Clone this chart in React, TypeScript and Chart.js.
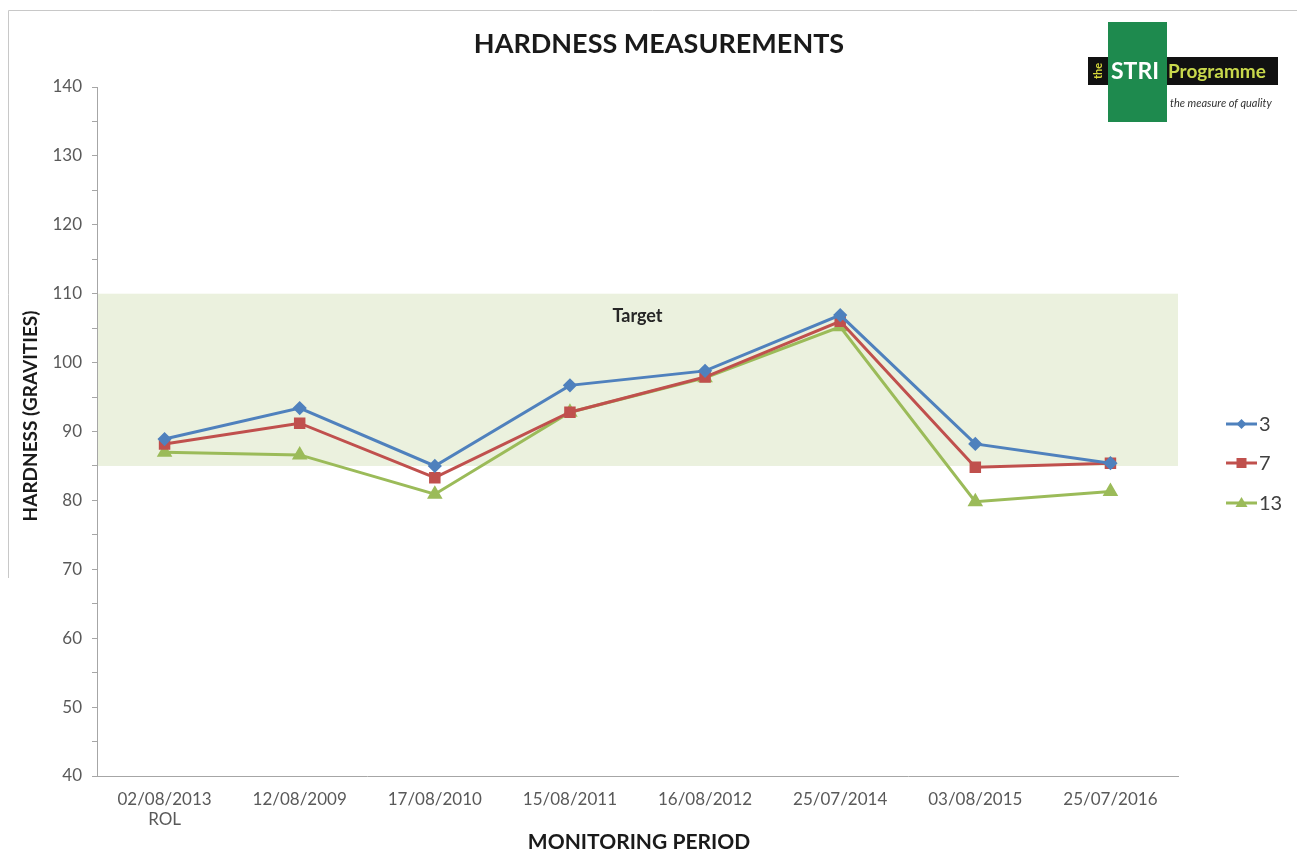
import React, { useEffect, useRef } from "react";
import { Chart, registerables } from "chart.js";

Chart.register(...registerables);

const categories: (string | string[])[] = [
  ["02/08/2013", "ROL"],
  "12/08/2009",
  "17/08/2010",
  "15/08/2011",
  "16/08/2012",
  "25/07/2014",
  "03/08/2015",
  "25/07/2016",
];
const seriesLabels = ["3", "7", "13"];
const series3 = [88.9, 93.4, 85.0, 96.7, 98.8, 106.9, 88.2, 85.4];
const series7 = [88.2, 91.2, 83.3, 92.8, 97.9, 106.0, 84.8, 85.4];
const series13 = [87.0, 86.6, 80.9, 92.8, 97.8, 105.2, 79.8, 81.3];
const targetMin = 85;
const targetMax = 110;
const yMin = 40;
const yMax = 140;

const FONT = "Lato, 'Open Sans', sans-serif";

const decorPlugin = {
  id: "decor",
  beforeDatasetsDraw(chart: any) {
    const { ctx, chartArea, scales } = chart;
    const y = scales.y;
    const top = y.getPixelForValue(targetMax);
    const bot = y.getPixelForValue(targetMin);
    ctx.save();
    ctx.fillStyle = "#EBF1DE";
    ctx.fillRect(chartArea.left + 1, top, chartArea.right - chartArea.left - 1, bot - top);
    ctx.restore();
  },
  afterDraw(chart: any) {
    const { ctx, chartArea, scales } = chart;
    const x = scales.x;
    const y = scales.y;
    ctx.save();
    // frame lines
    ctx.strokeStyle = "#C8C8C8";
    ctx.lineWidth = 1;
    ctx.beginPath();
    ctx.moveTo(8.5, 578);
    ctx.lineTo(8.5, 10.5);
    ctx.lineTo(1297, 10.5);
    ctx.stroke();

    // title
    ctx.fillStyle = "#1a1a1a";
    ctx.textAlign = "center";
    ctx.textBaseline = "middle";
    ctx.font = `bold 27px ${FONT}`;
    ctx.fillText("HARDNESS MEASUREMENTS", 659, 44);

    // Target label
    ctx.font = `bold 18px ${FONT}`;
    ctx.fillStyle = "#262626";
    ctx.fillText("Target", x.getPixelForValue(3.5), y.getPixelForValue(106.7));

    // axis titles
    ctx.font = `bold 21px ${FONT}`;
    ctx.fillStyle = "#1a1a1a";
    ctx.fillText("MONITORING PERIOD", 639, 842);
    ctx.save();
    ctx.translate(31, 416);
    ctx.rotate(-Math.PI / 2);
    ctx.font = `bold 19px ${FONT}`;
    ctx.fillText("HARDNESS (GRAVITIES)", 0, 0);
    ctx.restore();

    // legend
    const legendY = [424, 463, 503];
    chart.data.datasets.forEach((ds: any, i: number) => {
      const cy = legendY[i];
      ctx.strokeStyle = ds.borderColor;
      ctx.lineWidth = 3;
      ctx.beginPath();
      ctx.moveTo(1226, cy);
      ctx.lineTo(1257, cy);
      ctx.stroke();
      ctx.fillStyle = ds.backgroundColor;
      const cx = 1241.5;
      ctx.beginPath();
      if (ds.pointStyle === "rectRot") {
        ctx.moveTo(cx, cy - 5);
        ctx.lineTo(cx + 5, cy);
        ctx.lineTo(cx, cy + 5);
        ctx.lineTo(cx - 5, cy);
        ctx.closePath();
      } else if (ds.pointStyle === "rect") {
        ctx.rect(cx - 5, cy - 5, 10, 10);
      } else {
        ctx.moveTo(cx, cy - 6);
        ctx.lineTo(cx + 6, cy + 4);
        ctx.lineTo(cx - 6, cy + 4);
        ctx.closePath();
      }
      ctx.fill();
      ctx.fillStyle = "#404040";
      ctx.textAlign = "left";
      ctx.font = `20px ${FONT}`;
      ctx.fillText(ds.label, 1259, cy + 1);
    });

    // logo
    ctx.fillStyle = "#111111";
    ctx.fillRect(1088, 57, 190, 28);
    ctx.fillStyle = "#1E8A4E";
    ctx.fillRect(1108, 22, 59, 100);
    ctx.save();
    ctx.translate(1098, 71);
    ctx.rotate(-Math.PI / 2);
    ctx.fillStyle = "#D6D83A";
    ctx.font = `bold 11px ${FONT}`;
    ctx.textAlign = "center";
    ctx.fillText("the", 0, 0);
    ctx.restore();
    ctx.textAlign = "left";
    ctx.fillStyle = "#ffffff";
    ctx.font = `bold 23px ${FONT}`;
    ctx.fillText("STRI", 1111, 72);
    ctx.fillStyle = "#C9D94C";
    ctx.font = `bold 19px ${FONT}`;
    ctx.fillText("Programme", 1168, 72);
    ctx.fillStyle = "#333333";
    ctx.font = `italic 11px ${FONT}`;
    ctx.fillText("the measure of quality", 1170, 103);
    ctx.restore();
  },
};

export default function App() {
  const ref = useRef<HTMLCanvasElement>(null);
  useEffect(() => {
    if (!ref.current) return;
    const chart = new Chart(ref.current, {
      type: "line",
      data: {
        labels: categories,
        datasets: [
          {
            label: seriesLabels[0],
            data: series3,
            borderColor: "#4F81BD",
            backgroundColor: "#4F81BD",
            pointStyle: "rectRot",
            pointRadius: 5,
            borderWidth: 3,
          },
          {
            label: seriesLabels[1],
            data: series7,
            borderColor: "#C0504D",
            backgroundColor: "#C0504D",
            pointStyle: "rect",
            pointRadius: 6,
            borderWidth: 3,
          },
          {
            label: seriesLabels[2],
            data: series13,
            borderColor: "#9BBB59",
            backgroundColor: "#9BBB59",
            pointStyle: "triangle",
            pointRadius: 6,
            borderWidth: 3,
          },
        ] as any,
      },
      options: {
        animation: false,
        responsive: false,
        devicePixelRatio: 1,
        layout: { padding: { left: 0, top: 87, right: 119, bottom: 0 } },
        plugins: {
          legend: { display: false },
          title: { display: false },
          tooltip: { enabled: false },
        },
        elements: { line: { tension: 0 } },
        scales: {
          x: {
            offset: true,
            grid: { display: true, drawOnChartArea: false, drawTicks: false },
            border: { display: true, color: "#A6A6A6", width: 1 },
            ticks: {
              color: "#595959",
              font: { family: FONT, size: 17 },
              padding: 13,
              maxRotation: 0,
              autoSkip: false,
            },
            afterFit: (s: any) => {
              s.height = 76;
            },
          } as any,
          y: {
            min: yMin,
            max: yMax,
            grid: {
              display: true,
              drawOnChartArea: false,
              drawTicks: true,
              tickLength: 5,
              color: "#A6A6A6",
            },
            border: { display: true, color: "#A6A6A6", width: 1 },
            ticks: {
              stepSize: 5,
              color: "#595959",
              font: { family: FONT, size: 17 },
              padding: 10,
              callback: (v: any) => (Number(v) % 10 === 0 ? String(v) : ""),
            },
            afterFit: (s: any) => {
              s.width = 97;
            },
          } as any,
        },
      },
      plugins: [decorPlugin],
    });
    return () => chart.destroy();
  }, []);
  return (
    <div style={{ position: "fixed", left: 0, top: 0, width: 1297, height: 852, background: "#fff" }}>
      <canvas ref={ref} width={1297} height={852} style={{ width: 1297, height: 852, display: "block" }} />
    </div>
  );
}
